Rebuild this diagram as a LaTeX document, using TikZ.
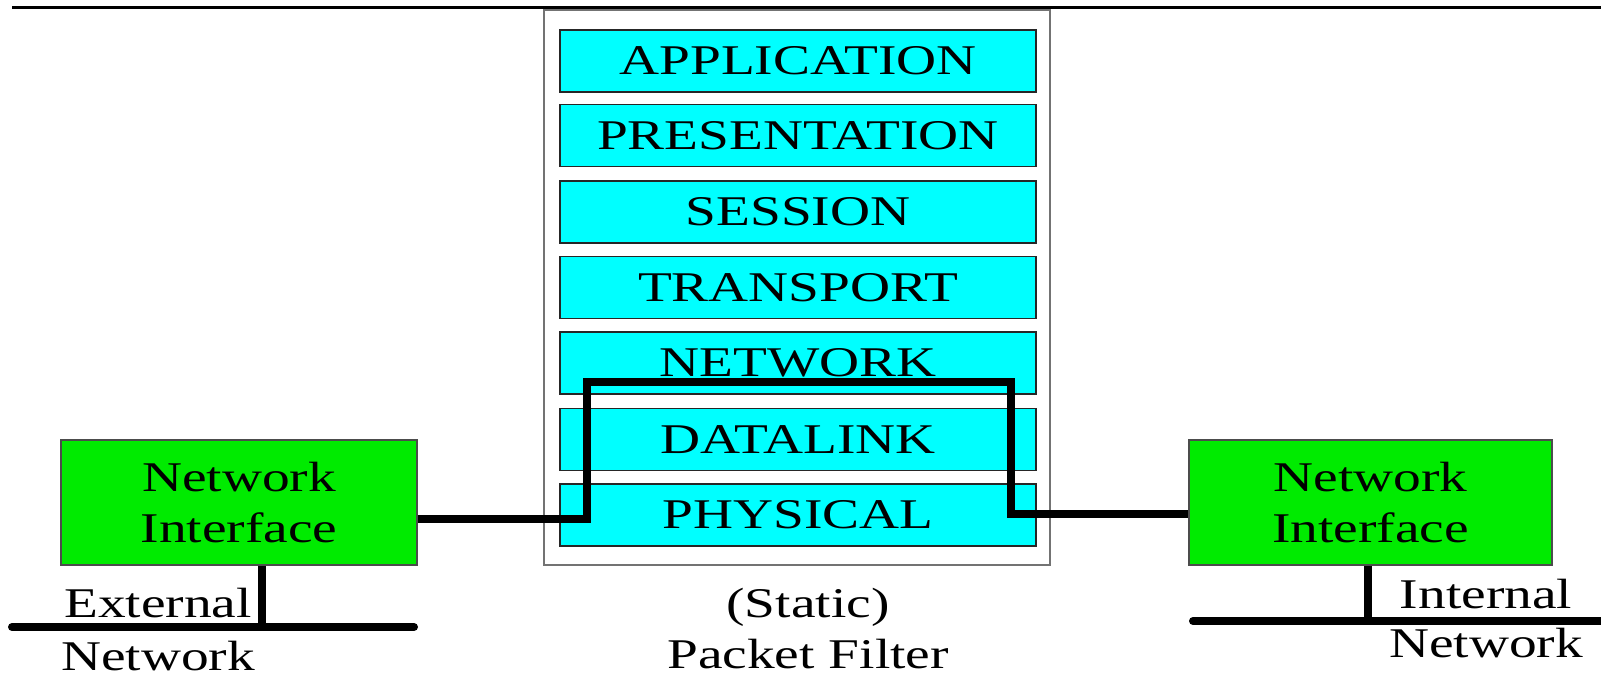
\documentclass[tikz,border=0pt]{standalone}
\usepackage{fontspec}
\setmainfont{Liberation Serif}[FakeStretch=1.31]
\definecolor{cyanc}{RGB}{0,255,255}
\definecolor{greenc}{RGB}{0,235,0}
\newcommand\bigtxt{\fontsize{42.3pt}{51pt}\selectfont}
\begin{document}
\begin{tikzpicture}[x=1pt,y=-1pt,
  layer/.style={draw=black!85, line width=1.5pt, fill=cyanc, minimum width=476pt, minimum height=62pt, inner sep=0pt, font=\bigtxt},
  nic/.style={draw=black!70, line width=1.5pt, fill=greenc, minimum height=125pt, align=center, inner sep=0pt, font=\bigtxt},
  wire/.style={line width=8pt},
  lbl/.style={inner sep=0pt, anchor=base, font=\bigtxt}]
\useasboundingbox (0,0) rectangle (1601,683);
\fill[white] (0,0) rectangle (1601,683);
\draw[line width=3pt] (12,7) -- (1601,7);
% packet filter frame
\node[draw=black!55, line width=2pt, fill=white, minimum width=506pt, minimum height=555pt, inner sep=0pt] (pf) at (797,287.5) {};
\node[layer] (app) at (798,61) {APPLICATION};
\node[layer] (pres) at (798,135.5) {PRESENTATION};
\node[layer] (sess) at (798,212) {SESSION};
\node[layer] (trans) at (798,287.5) {TRANSPORT};
\node[layer] (net) at (798,363) {NETWORK};
\node[layer] (dl) at (798,439.5) {DATALINK};
\node[layer] (phy) at (798,515) {PHYSICAL};
% interfaces
\node[nic, minimum width=356pt] (lni) at (239,502.5) {Network\\Interface};
\node[nic, minimum width=363pt] (rni) at (1370.5,502.5) {Network\\Interface};
% path through the filter
\coordinate (a) at (587,519);
\coordinate (b) at (587,382);
\coordinate (c) at (1011,382);
\coordinate (d) at (1011,514);
\draw[wire] (a -| lni.east) -- (a) -- (b) -- (c) -- (d) -- (d -| rni.west);
% external network
\coordinate (eL) at (12,627);
\coordinate (eR) at (414,627);
\coordinate (ext) at (262,627);
\draw[wire, line cap=round] (eL) -- (eR);
\draw[wire] (ext |- lni.south) -- (ext);
\node[lbl] (extt) at (158,617) {External};
\node[lbl] (extn) at (158,670) {Network};
% internal network
\coordinate (iL) at (1193,621);
\coordinate (iR) at (1601,621);
\coordinate (int) at (1368,621);
\draw[wire, line cap=round] (iL) -- (iR);
\draw[wire] (int |- rni.south) -- (int);
\node[lbl] (intt) at (1486,608) {Internal};
\node[lbl] (intn) at (1486,657) {Network};
% caption
\node[lbl] (st) at (808,617) {(Static)};
\node[lbl] (pfl) at (808,668) {Packet Filter};
\end{tikzpicture}
\end{document}
